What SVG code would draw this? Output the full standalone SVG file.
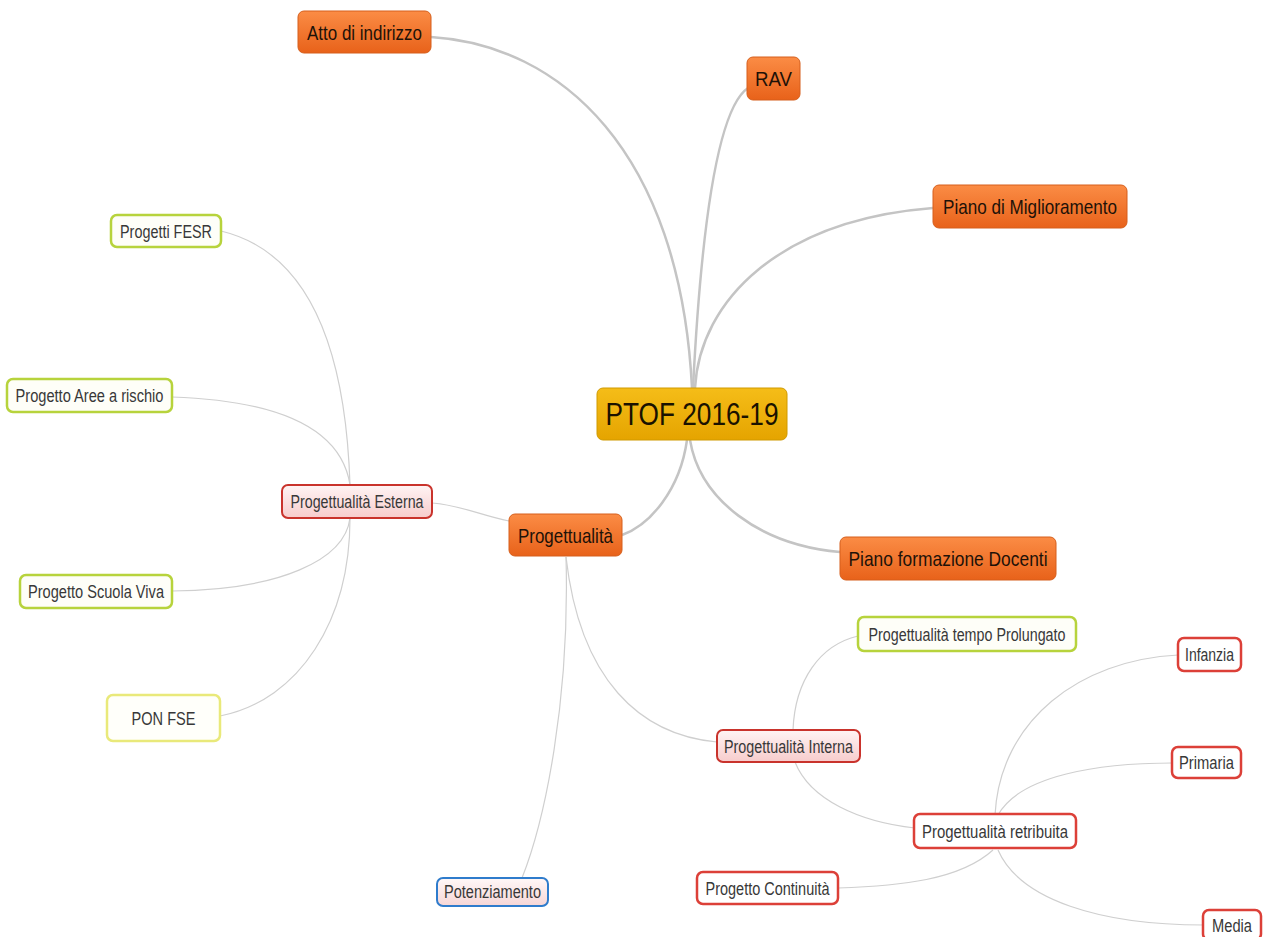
<svg xmlns="http://www.w3.org/2000/svg" width="1270" height="937" viewBox="0 0 1270 937">
<defs>
<linearGradient id="gOrange" x1="0" y1="0" x2="0" y2="1"><stop offset="0" stop-color="#fb8c45"/><stop offset="1" stop-color="#e8621a"/></linearGradient>
<linearGradient id="gGold" x1="0" y1="0" x2="0" y2="1"><stop offset="0" stop-color="#f5bd18"/><stop offset="1" stop-color="#e5a400"/></linearGradient>
<linearGradient id="gPink" x1="0" y1="0" x2="0" y2="1"><stop offset="0" stop-color="#fff4f4"/><stop offset="1" stop-color="#f7cccc"/></linearGradient>
<linearGradient id="gBluePink" x1="0" y1="0" x2="0" y2="1"><stop offset="0" stop-color="#fff8f8"/><stop offset="1" stop-color="#f6d6d6"/></linearGradient>
</defs>
<style>
text{font-family:"Liberation Sans",Arial,sans-serif;text-anchor:middle}
.main{fill:none;stroke:#c4c4c4;stroke-width:2.5}
.thin{fill:none;stroke:#cfcfcf;stroke-width:1.2}
.orange rect{fill:url(#gOrange);stroke:#d65f1c;stroke-width:1}
.orange text{font-size:21px;fill:#1e1208}
.gold rect{fill:url(#gGold);stroke:#d09a00;stroke-width:1}
.gold text{font-size:32px;fill:#1a1200}
.pink rect{fill:url(#gPink);stroke:#c9332c;stroke-width:2}
.red rect{fill:#ffffff;stroke:#dc4038;stroke-width:2.5}
.green rect{fill:#fefef8;stroke:#b7d33c;stroke-width:2.5}
.yellow rect{fill:#fffffa;stroke:#e9e97a;stroke-width:2.5}
.blue rect{fill:url(#gBluePink);stroke:#2f7ccc;stroke-width:2}
.sub text{font-size:17.5px;fill:#383838}
</style>
<rect width="1270" height="937" fill="#ffffff"/>
<g id="connectors">
<path class="main" d="M431,37 C560,45 680,150 692,388"/>
<path class="main" d="M748,88 C715,110 700,250 693,388"/>
<path class="main" d="M933,208 C780,220 700,300 695,388"/>
<path class="main" d="M690,440 C700,500 760,545 840,552"/>
<path class="main" d="M687,440 C680,490 650,525 622,535"/>
<path class="thin" d="M509,521 C480,515 460,505 432,503"/>
<path class="thin" d="M221,231 C300,250 345,330 350,485"/>
<path class="thin" d="M172,397 C260,400 340,420 350,485"/>
<path class="thin" d="M172,591 C280,590 345,560 350,518"/>
<path class="thin" d="M220,716 C300,700 350,620 350,518"/>
<path class="thin" d="M566,557 C570,700 545,820 522,878"/>
<path class="thin" d="M566,557 C580,680 640,735 717,742"/>
<path class="thin" d="M793,730 C795,680 820,645 858,636"/>
<path class="thin" d="M795,762 C810,800 860,822 915,828"/>
<path class="thin" d="M995,815 C1000,720 1080,660 1178,655"/>
<path class="thin" d="M998,815 C1020,775 1100,763 1172,763"/>
<path class="thin" d="M993,850 C960,880 900,886 838,888"/>
<path class="thin" d="M998,850 C1020,900 1100,925 1204,925"/>
</g>
<g id="ptof" class="gold"><rect x="597" y="388" width="190" height="52" rx="6"/><text x="692" y="425" textLength="173" lengthAdjust="spacingAndGlyphs">PTOF 2016-19</text></g>
<g id="atto" class="orange"><rect x="298" y="11" width="133" height="42" rx="6"/><text x="364.5" y="40" textLength="115" lengthAdjust="spacingAndGlyphs">Atto di indirizzo</text></g>
<g id="rav" class="orange"><rect x="747" y="57" width="53" height="43" rx="6"/><text x="773.5" y="86" textLength="37" lengthAdjust="spacingAndGlyphs">RAV</text></g>
<g id="miglioramento" class="orange"><rect x="933" y="185" width="194" height="43" rx="6"/><text x="1030" y="214" textLength="174" lengthAdjust="spacingAndGlyphs">Piano di Miglioramento</text></g>
<g id="formazione" class="orange"><rect x="840" y="537" width="216" height="43" rx="6"/><text x="948" y="566" textLength="199" lengthAdjust="spacingAndGlyphs">Piano formazione Docenti</text></g>
<g id="progettualita" class="orange"><rect x="509" y="514" width="113" height="42" rx="6"/><text x="565.5" y="543" textLength="95" lengthAdjust="spacingAndGlyphs">Progettualità</text></g>
<g id="esterna" class="pink sub"><rect x="282" y="485" width="150" height="33" rx="6"/><text x="357" y="508" textLength="133" lengthAdjust="spacingAndGlyphs">Progettualità Esterna</text></g>
<g id="fesr" class="green sub"><rect x="111" y="215" width="110" height="32" rx="6"/><text x="166" y="238" textLength="92" lengthAdjust="spacingAndGlyphs">Progetti FESR</text></g>
<g id="aree" class="green sub"><rect x="7" y="379" width="165" height="33" rx="6"/><text x="89.5" y="402" textLength="148" lengthAdjust="spacingAndGlyphs">Progetto Aree a rischio</text></g>
<g id="scuolaviva" class="green sub"><rect x="20" y="575" width="152" height="33" rx="6"/><text x="96" y="598" textLength="136" lengthAdjust="spacingAndGlyphs">Progetto Scuola Viva</text></g>
<g id="ponfse" class="yellow sub"><rect x="107" y="695" width="113" height="46" rx="6"/><text x="163.5" y="725" textLength="64" lengthAdjust="spacingAndGlyphs">PON FSE</text></g>
<g id="tempo" class="green sub"><rect x="858" y="617" width="218" height="34" rx="6"/><text x="967" y="641" textLength="197" lengthAdjust="spacingAndGlyphs">Progettualità tempo Prolungato</text></g>
<g id="interna" class="pink sub"><rect x="717" y="730" width="143" height="32" rx="6"/><text x="788.5" y="753" textLength="129" lengthAdjust="spacingAndGlyphs">Progettualità Interna</text></g>
<g id="retribuita" class="red sub"><rect x="914" y="814" width="162" height="34" rx="6"/><text x="995" y="838" textLength="146" lengthAdjust="spacingAndGlyphs">Progettualità retribuita</text></g>
<g id="continuita" class="red sub"><rect x="697" y="872" width="141" height="32" rx="6"/><text x="767.5" y="895" textLength="124" lengthAdjust="spacingAndGlyphs">Progetto Continuità</text></g>
<g id="media" class="red sub"><rect x="1203" y="910" width="58" height="30" rx="6"/><text x="1232" y="932" textLength="40" lengthAdjust="spacingAndGlyphs">Media</text></g>
<g id="infanzia" class="red sub"><rect x="1178" y="638" width="63" height="33" rx="6"/><text x="1209.5" y="661" textLength="49" lengthAdjust="spacingAndGlyphs">Infanzia</text></g>
<g id="primaria" class="red sub"><rect x="1172" y="747" width="69" height="31" rx="6"/><text x="1206.5" y="769" textLength="55" lengthAdjust="spacingAndGlyphs">Primaria</text></g>
<g id="potenziamento" class="blue sub"><rect x="437" y="878" width="111" height="28" rx="6"/><text x="492.5" y="898" textLength="97" lengthAdjust="spacingAndGlyphs">Potenziamento</text></g>
</svg>
